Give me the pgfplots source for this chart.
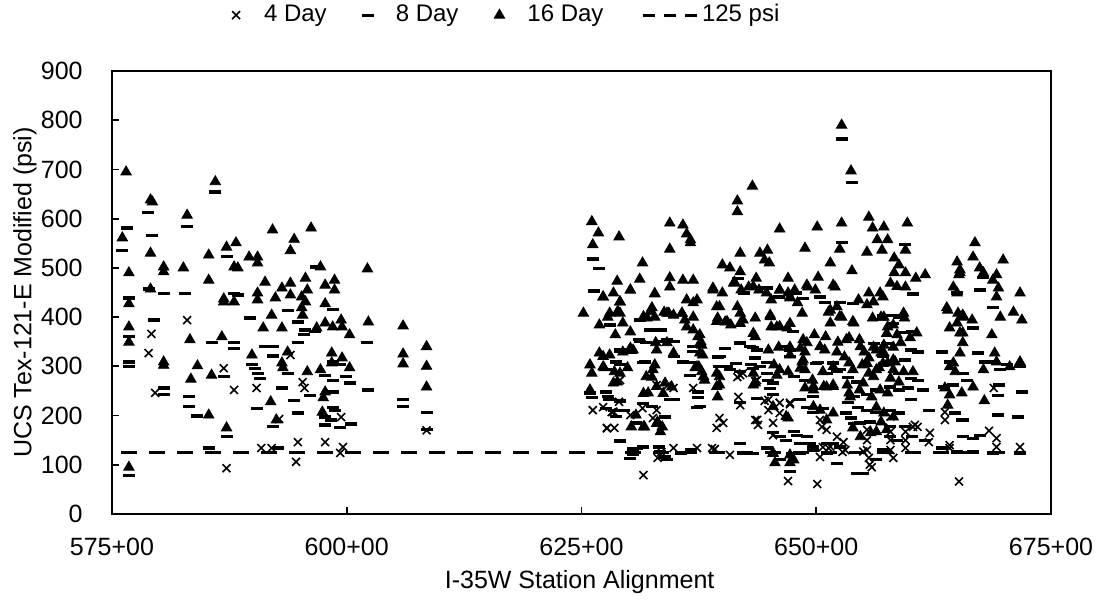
\documentclass[border=0pt]{standalone}
\usepackage{fontspec}
\setmainfont{Liberation Sans}
\usepackage{pgfplots}
\pgfplotsset{compat=1.18}
\pgfplotsset{
 markleg/.style={legend image code/.code={\path[draw=none,fill=none] (0pt,-2pt) rectangle (21pt,2pt); \draw[##1] plot coordinates {(9pt,0pt)};}},
 lineleg/.style={legend image code/.code={\path[draw=none,fill=none] (0pt,-2pt) rectangle (35pt,2pt); \draw[##1, dash pattern=on 6pt off 4.5pt] (8pt,0pt) -- (35pt,0pt);}},
}
\begin{document}
\fontsize{12.5}{15}\selectfont
\begin{tikzpicture}
\path[use as bounding box] (-56pt,-45.5pt) rectangle (495pt,257pt);
\begin{axis}[
 scale only axis, width=469.5pt, height=221.5pt,
 xmin=575, xmax=675, ymin=0, ymax=900,
 xtick={575,600,625,650,675},
 xticklabels={575+00,600+00,625+00,650+00,675+00},
 ytick={0,100,...,900},
 tick align=inside, tick pos=left, major tick length=3.5pt,
 axis line style={line width=0.9pt},
 every tick/.style={line width=0.9pt, black},
 /pgf/number format/assume math mode=true,
 tick label style={font=\fontsize{12.5}{15}\selectfont},
 label style={font=\fontsize{12.5}{15}\selectfont},
 xticklabel style={anchor=north, inner sep=0pt}, xticklabel shift=12pt,
 yticklabel style={anchor=east, inner sep=0pt}, yticklabel shift=14.5pt,
 xlabel={I-35W Station Alignment},
 ylabel={UCS Tex-121-E Modified (psi)},
 xlabel style={at={(axis description cs:0.498,-0.1535)}, anchor=center},
 ylabel style={at={(axis description cs:-0.0927,0.5)}, anchor=center},
 legend columns=4,
 legend style={at={(0.414,1.126)}, anchor=center, draw=none, fill=none,
   font=\fontsize{12}{14.4}\selectfont,
   /tikz/every even column/.append style={column sep=9.5pt}},
 legend cell align=left,
]
% 4 Day
\addplot[only marks, mark=x, mark size=2.8pt, line width=0.8pt, markleg]
coordinates {
(579.2,366) (578.9,327) (579.6,246) (583.0,394) (586.9,296) (587.2,93) (588.0,252) (590.4,256)
(594.0,323) (595.3,268) (595.5,256) (592.8,193) (594.8,146) (597.7,146) (592.0,134) (590.9,134)
(594.6,106) (599.4,197) (599.6,136) (599.3,124) (608.5,170)
(629.1,272) (627.3,217) (628.5,175) (629.0,228) (626.2,211) (633.0,262) (633.0,211) (631.5,215)
(633.5,126) (631.6,79) (634.8,134) (634.8,256) (628.2,207) (627.7,175) (630.2,201) (632.6,195)
(634.2,262) (633.1,114) (636.9,256) (637.3,134) (639.2,132) (640.8,120) (641.6,278) (642.2,286)
(643.5,270) (644.5,230) (644.9,211) (647.2,223) (645.4,160) (639.7,195) (640.1,185) (639.4,175)
(643.5,191) (643.8,181) (647.0,67) (650.4,116) (651.3,134) (652.8,126) (652.2,157) (650.6,177)
(651.1,171) (650.1,61) (655.4,130) (655.9,95) (657.9,150) (657.9,130) (658.2,114) (659.5,150)
(659.5,134) (660.5,181) (660.8,177) (662.0,146) (663.7,207) (664.2,134) (665.2,66) (668.9,256)
(668.4,169) (669.2,154) (669.2,136) (671.7,136) (650.4,191) (650.7,136) (652.9,146) (655.4,150)
(655.6,114) (647.2,226) (641.9,282) (643.7,272) (641.7,238) (644.9,232) (646.1,226) (645.4,185)
(638.9,134) (657.9,167) (659.5,167) (662.1,165) (663.7,191) (664.2,140) (660.3,177) (643.7,191)
(628.4,208) (627.7,174) (641.9,221) (646.1,205) (655.4,171) (655.0,127) (655.7,100) (657.9,198)
(653.1,130) (651.5,137)
};
\addlegendentry{4 Day}
% 8 Day
\addplot[only marks, mark=-, mark size=3pt, line width=1.6pt, markleg]
coordinates {
(576.1,536) (576.6,581) (576.8,439) (576.8,360) (576.8,309) (576.8,299) (576.8,79)
(578.8,613) (579.3,565) (578.9,457) (580.5,448) (579.5,394) (580.5,256) (580.5,242)
(583.0,584) (582.8,448) (583.2,238) (583.2,218) (584.1,199) (585.3,134)
(586.0,654) (585.6,348) (586.9,279) (587.2,157) (587.2,523) (588.0,448) (588.0,348) (588.0,337)
(588.4,445) (589.7,398) (593.7,414) (594.8,390) (595.6,374) (595.5,364) (596.6,370) (594.8,348)
(602.2,348) (591.3,340) (592.1,340) (592.1,321) (598.5,309) (599.3,303) (589.9,303) (590.2,295)
(590.5,286) (590.8,276) (593.7,286) (597.7,282) (598.5,272) (599.9,280) (600.3,266) (598.5,248)
(602.3,252) (593.1,256) (596.1,240) (594.4,230) (590.4,215) (598.5,217) (598.8,211) (594.8,205)
(597.7,197) (598.3,191) (597.7,181) (592.1,177) (600.5,183) (599.3,175) (592.7,134) (596.7,502)
(598.5,416) (606.0,232) (606.0,219) (608.5,207) (608.5,172)
(626.2,518) (626.9,498) (626.3,453) (632.8,374) (633.5,374) (631.1,354) (631.9,348) (634.1,354)
(629.1,333) (630.3,329) (627.6,293) (629.1,303) (631.5,307) (635.8,309) (636.6,307) (625.9,246)
(626.1,236) (627.6,248) (627.8,238) (629.1,230) (627.9,232) (627.6,215) (628.5,211) (629.5,211)
(630.8,185) (629.1,150) (631.5,136) (630.5,132) (630.5,122) (633.3,136) (633.4,126) (633.9,116)
(635.6,124) (636.7,130) (632.5,219) (634.8,232) (633.9,197) (637.4,236)
(637.4,248) (637.3,217) (639.5,319) (639.6,299) (641.9,348) (643.3,339) (643.5,317) (640.8,293)
(641.9,289) (643.1,303) (644.8,307) (644.8,286) (645.4,266) (645.4,242) (641.9,226) (644.8,134)
(645.4,165) (646.8,150) (641.9,144) (642.2,124) (644.8,459) (646.0,441) (641.7,479) (642.3,449)
(647.8,449) (648.6,437) (650.4,441) (650.9,429) (652.5,429) (647.5,370) (647.2,333) (650.2,307)
(651.8,307) (652.2,289) (651.1,286) (653.4,278) (654.3,268) (648.3,232) (649.0,217) (649.7,207)
(650.7,215) (653.4,226) (654.4,217) (655.4,211) (656.4,207) (653.7,195) (654.7,185) (655.7,187)
(648.0,160) (648.3,144) (649.7,136) (651.1,144) (652.5,136) (655.0,83) (657.9,157) (658.6,150)
(652.7,762) (653.8,673) (652.7,551)
(659.5,547) (660.3,447) (658.2,404) (658.8,400) (659.5,368) (660.2,370) (660.1,333) (660.8,329)
(659.4,313) (658.8,286) (660.1,276) (660.8,272) (657.9,258) (658.8,252) (659.8,256) (661.4,252)
(660.1,232) (662.0,211) (657.9,211) (658.8,205) (657.9,177) (659.4,177) (660.2,157) (661.6,150)
(663.4,329) (664.2,309) (663.6,258) (664.6,262) (664.8,205) (665.5,191) (663.4,134) (665.0,126)
(665.0,449) (667.4,455) (668.8,419) (666.7,378) (667.2,327) (668.0,309) (668.8,309) (670.3,303)
(671.7,299) (669.6,293) (665.6,286) (666.0,272) (669.5,262) (671.9,248) (669.4,240) (669.4,201)
(671.5,197) (665.6,191) (665.6,157) (666.7,154) (667.4,160) (666.7,126) (668.8,124) (671.7,124)
(667.8,481)
(633.0,374) (633.7,350) (631.2,350) (634.8,350) (629.1,330) (628.7,309) (631.8,309) (635.8,309)
(634.8,320) (636.9,340) (636.9,330) (640.3,337) (641.9,347) (642.9,340) (643.7,333) (643.3,296)
(644.0,299) (644.9,272) (645.1,255) (645.4,266) (640.5,299) (639.7,320) (641.5,306) (646.8,340)
(647.2,320) (647.6,279) (648.8,272) (650.0,306) (651.8,306) (652.5,293) (653.9,428) (657.1,404)
(658.2,387) (656.1,347) (657.5,347) (657.1,320) (656.4,252) (655.4,242) (654.0,238) (653.2,205)
(654.0,184) (649.7,238) (649.0,157) (649.3,144) (649.7,130) (651.8,144) (651.1,123) (652.2,103)
(654.3,83) (656.4,110) (657.1,130) (648.3,123) (646.1,110) (647.2,86) (647.4,123) (643.3,123)
(643.7,235) (646.1,157) (647.6,167) (629.1,228) (628.7,198) (631.6,225) (634.4,232) (637.6,218)
(629.1,147) (630.9,133) (630.5,123) (630.2,113) (633.2,137) (634.1,110) (636.6,282) (628.0,384)
(632.3,374) (631.2,394)
};
\addlegendentry{8 Day}
% 16 Day
\addplot[only marks, mark=triangle*, mark size=3pt, fill=black, draw=black, markleg]
coordinates {
(576.5,695) (576.1,561) (576.8,490) (576.8,427) (576.8,380) (576.8,349) (576.8,95)
(579.1,638) (579.3,634) (579.1,530) (579.1,457) (580.5,502) (580.5,492) (580.5,309) (580.5,302)
(583.0,607) (582.6,500) (583.3,354) (584.1,301) (583.4,274) (585.3,201)
(586.0,675) (585.3,526) (585.3,475) (585.6,282) (586.7,360) (587.2,175) (587.2,542) (586.9,437)
(586.9,431) (588.0,431) (588.2,551) (588.0,502)
(592.1,577) (596.2,581) (594.4,558) (594.0,535) (589.6,522) (590.5,522) (590.5,510) (588.4,500)
(597.2,502) (602.2,498) (591.3,471) (594.0,469) (595.6,479) (598.7,475) (597.7,465) (593.1,459)
(598.7,455) (590.5,449) (590.5,435) (592.4,439) (594.0,445) (595.2,441) (595.8,455) (595.6,431)
(597.7,427) (595.2,419) (592.0,404) (595.3,404) (597.7,388) (599.4,394) (599.5,380) (602.3,390)
(591.1,378) (593.1,378) (596.8,378) (598.5,380) (600.3,364) (606.0,382) (593.7,329) (589.9,323)
(598.4,327) (599.5,317) (606.0,325) (606.0,305) (593.1,307) (593.2,297) (595.8,289) (597.2,293)
(598.4,307) (600.3,297) (597.7,248) (597.5,236) (591.9,228) (597.4,207) (592.5,191)
(608.5,340) (608.5,300) (608.5,258)
(626.1,594) (626.8,571) (629.0,563) (626.2,547) (625.2,408) (634.4,591) (635.8,587) (636.2,569)
(636.6,551) (634.4,538) (631.5,510) (631.2,477) (628.8,473) (630.2,455) (628.4,449) (627.3,441)
(629.1,431) (632.8,447) (634.4,480) (634.4,461) (635.8,475) (636.9,475) (636.2,435) (636.9,429)
(628.8,410) (629.1,408) (627.8,400) (626.9,384) (629.4,388) (630.2,370) (632.5,419) (632.8,400)
(632.0,398) (633.8,410) (634.3,408) (634.8,404) (635.7,408) (636.0,394) (636.2,380) (628.6,364)
(626.9,327) (628.0,323) (629.4,329) (630.2,337) (632.9,348) (633.0,333) (634.1,348) (634.8,327)
(637.7,350) (637.5,299) (625.9,303) (626.1,286) (627.4,297) (628.5,289) (629.1,286) (629.9,297)
(632.8,303) (632.5,278) (633.9,266) (634.6,258) (625.9,252) (628.8,268) (632.1,246) (630.8,201)
(631.7,177) (633.1,187) (633.6,177)
(643.2,666) (641.6,636) (641.6,614) (646.1,579) (636.6,557) (641.9,530) (644.0,530) (644.8,536)
(644.5,516) (645.0,510) (640.0,506) (640.8,500) (641.9,492) (647.0,479) (639.0,459) (640.0,449)
(641.3,471) (642.0,455) (642.8,461) (643.6,479) (643.9,455) (644.7,449) (645.2,435) (646.1,455)
(647.0,449) (647.2,439) (636.9,400) (636.9,374) (639.7,421) (639.5,398) (640.3,390) (640.9,384)
(642.2,394) (641.6,421) (641.9,408) (643.5,398) (645.1,404) (645.2,380) (645.8,380) (646.9,378)
(637.4,360) (637.8,343) (637.6,327) (637.9,323) (643.5,360) (644.9,333) (646.0,339) (647.2,339)
(647.2,323) (637.1,297) (637.8,289) (638.1,272) (639.4,286) (639.7,262) (639.5,238) (643.3,286)
(643.5,266) (645.5,303) (646.1,293) (647.0,289) (647.0,195) (645.4,124) (645.6,104) (647.2,120)
(647.2,104)
(652.7,790) (653.7,697) (655.6,603) (656.0,581) (656.5,557) (655.4,532) (652.7,591) (650.1,583)
(648.8,540) (652.5,538) (651.5,510) (653.8,494) (650.2,481) (649.1,461) (649.9,455) (652.0,461)
(647.7,455) (647.2,441) (648.0,429) (648.5,408) (654.5,435) (655.6,449) (656.1,431) (652.2,421)
(652.7,400) (651.3,410) (651.5,388) (654.0,388) (656.0,398) (656.9,400) (649.8,364) (649.0,348)
(648.8,329) (651.0,360) (652.3,349) (653.5,358) (654.6,354) (650.9,333) (652.2,329) (653.0,319)
(653.5,307) (655.1,329) (655.6,317) (656.1,339) (656.9,327) (648.5,309) (648.8,293) (649.6,272)
(650.7,289) (651.8,299) (653.9,293) (654.9,303) (655.6,286) (656.7,297) (648.8,256) (649.7,252)
(651.1,258) (651.8,262) (653.3,262) (653.5,246) (654.6,252) (655.9,238) (656.4,217) (653.9,175)
(656.9,187) (655.8,165)
(659.7,591) (657.2,583) (657.6,557) (657.0,536) (659.5,536) (658.3,520) (658.8,506) (659.5,490)
(658.3,490) (660.6,479) (661.6,486) (657.9,469) (656.8,449) (659.5,461) (659.3,408) (659.4,398)
(657.2,400) (657.6,380) (658.2,384) (660.7,368) (660.0,358) (657.2,343) (658.2,339) (659.0,348)
(657.2,327) (657.6,307) (658.4,309) (659.3,289) (660.3,289) (657.9,276) (658.8,268) (656.8,252)
(657.6,246) (657.2,205) (658.2,197) (664.0,221) (665.0,512) (665.3,490) (664.6,461) (665.0,449)
(664.0,414) (665.1,408) (665.7,400) (665.0,388) (664.2,378) (665.3,368) (665.3,327) (664.6,307)
(664.8,289) (664.2,299) (663.7,256) (664.2,242)
(666.9,551) (666.7,522) (667.4,500) (667.8,490) (669.9,516) (669.2,486) (668.8,475) (669.4,459)
(669.2,441) (671.7,449) (671.0,410) (671.9,394) (669.6,400) (668.7,364) (665.6,404) (666.6,394)
(665.6,368) (665.6,348) (669.0,327) (669.2,309) (667.8,293) (670.6,299) (671.7,309) (666.7,258)
(665.5,246) (665.3,496) (665.2,486) (663.9,419) (667.9,230)
(630.2,455) (632.8,448) (627.3,441) (629.1,431) (628.0,408) (628.9,411) (631.6,401) (632.3,411)
(634.1,408) (635.7,408) (637.3,435) (639.0,455) (639.4,421) (641.2,469) (643.3,462) (646.1,455)
(649.0,465) (651.8,465) (655.4,425) (657.1,441) (658.6,462) (637.6,364) (639.4,391) (640.5,391)
(641.9,387) (643.3,367) (645.1,401) (646.1,381) (647.2,387) (648.6,354) (648.3,337) (648.6,313)
(650.4,340) (651.5,414) (652.5,401) (653.9,391) (653.2,354) (654.7,340) (656.4,333) (657.5,367)
(658.6,364) (655.4,306) (656.4,293) (657.1,306) (658.2,313) (627.3,320) (628.4,266) (627.3,299)
(630.5,333) (631.9,279) (632.6,293) (631.6,245) (633.0,259) (633.7,245) (637.3,299) (638.0,279)
(639.4,259) (639.7,279) (643.3,262) (645.8,282) (648.3,296) (649.7,259) (650.8,259) (651.8,259)
(653.6,238) (655.0,266) (656.1,279) (658.2,293) (631.6,177) (630.3,177) (633.0,184) (633.4,167)
(646.8,198) (645.4,123) (647.6,110) (654.7,157) (656.4,167) (657.5,171) (649.7,218) (650.4,211)
(651.1,191) (651.8,205) (645.4,218)
};
\addlegendentry{16 Day}
% 125 psi
\addplot[black, line width=1.5pt, dash pattern=on 8pt off 6pt, lineleg]
coordinates {(576,125) (672,125)};
\addlegendentry{125 psi}
\end{axis}
\end{tikzpicture}
\end{document}
